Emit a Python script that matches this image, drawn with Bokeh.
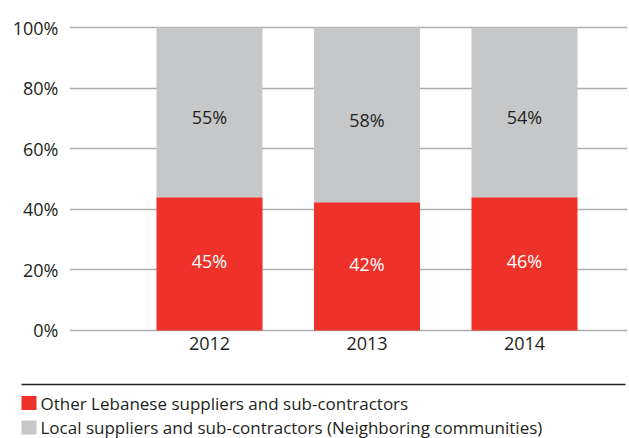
from bokeh.plotting import figure
from bokeh.models import Range1d, FixedTicker, ColumnDataSource
from bokeh.layouts import column
from bokeh.embed import file_html
from bokeh.resources import INLINE
from bokeh.core.properties import value

# ---- data ----
years = ["2012", "2013", "2014"]
other_lebanese = [44.0, 42.3, 44.0]          # bar heights as drawn (%)
local_suppliers = [56.0, 57.7, 56.0]         # remaining share (%)
other_labels = ["45%", "42%", "46%"]
local_labels = ["55%", "58%", "54%"]
series_names = ["Other Lebanese suppliers and sub-contractors",
                "Local suppliers and sub-contractors (Neighboring communities)"]
y_ticks = [0, 20, 40, 60, 80, 100]

RED = "#EE3129"
GRAY = "#C6C7C9"
TEXT = "#231F20"
FONT = "Open Sans"
series_colors = [RED, GRAY]

xs = list(range(len(years)))
src = ColumnDataSource(dict(
    x=xs,
    red_top=other_lebanese,
    gray_bottom=other_lebanese,
    gray_top=[a + b for a, b in zip(other_lebanese, local_suppliers)],
    red_mid=[a * 0.52 for a in other_lebanese],
    gray_mid=[a + b * 0.47 for a, b in zip(other_lebanese, local_suppliers)],
    red_lab=other_labels,
    gray_lab=local_labels,
))

W = 629
TOP_H = 360
p = figure(width=W, height=TOP_H, output_backend="svg", toolbar_location=None,
           x_range=Range1d(-0.889, 2.654), y_range=Range1d(-1, 101),
           min_border_left=69, min_border_right=2, min_border_top=24,
           min_border_bottom=27)
p.frame_align = False
p.outline_line_color = None
p.background_fill_color = "white"
p.border_fill_color = "white"

p.vbar(x="x", bottom=0, top="red_top", width=0.673, source=src,
       fill_color=RED, line_color=None)
p.vbar(x="x", bottom="gray_bottom", top="gray_top", width=0.673, source=src,
       fill_color=GRAY, line_color=None)

p.text(x="x", y="red_mid", text="red_lab", source=src, text_color="white",
       text_align="center", text_baseline="middle",
       text_font=value(FONT), text_font_size="18px")
p.text(x="x", y="gray_mid", text="gray_lab", source=src, text_color=TEXT,
       text_align="center", text_baseline="middle",
       text_font=value(FONT), text_font_size="18px")

# axes
p.yaxis.ticker = FixedTicker(ticks=y_ticks)
p.yaxis.major_label_overrides = {t: f"{t}%" for t in y_ticks}
p.yaxis.axis_line_color = None
p.yaxis.major_tick_line_color = None
p.yaxis.minor_tick_line_color = None
p.yaxis.major_tick_out = 0
p.yaxis.major_tick_in = 0
p.yaxis.major_label_standoff = 11
p.yaxis.major_label_text_font = FONT
p.yaxis.major_label_text_font_size = "18px"
p.yaxis.major_label_text_color = TEXT

p.xaxis.ticker = FixedTicker(ticks=xs)
p.xaxis.major_label_overrides = {i: y for i, y in zip(xs, years)}
p.xaxis.axis_line_color = None
p.xaxis.major_tick_line_color = None
p.xaxis.minor_tick_line_color = None
p.xaxis.major_tick_out = 0
p.xaxis.major_tick_in = 0
p.xaxis.major_label_standoff = 3
p.xaxis.major_label_text_font = FONT
p.xaxis.major_label_text_font_size = "18px"
p.xaxis.major_label_text_color = TEXT

p.xgrid.grid_line_color = None
p.ygrid.ticker = FixedTicker(ticks=y_ticks)
p.ygrid.grid_line_color = "#AEAEAE"
p.ygrid.grid_line_width = 1.5
p.ygrid.level = "underlay"

# ---- legend panel (pixel-like coordinates, y measured from top) ----
LEG_H = 438 - TOP_H
L = figure(width=W, height=LEG_H, output_backend="svg", toolbar_location=None,
           x_range=Range1d(0, W), y_range=Range1d(LEG_H, 0),
           min_border=0)
L.frame_align = False
L.outline_line_color = None
L.xaxis.visible = False
L.yaxis.visible = False
L.grid.visible = False
L.segment(x0=[21], y0=[24], x1=[625], y1=[24], line_color="#231F20",
          line_width=1.5)

row_y = [42.5 + 24.5 * i for i in range(len(series_names))]
leg_src = ColumnDataSource(dict(
    sx=[28.5] * len(series_names),
    tx=[40] * len(series_names),
    y=row_y,
    color=series_colors,
    name=series_names,
))
L.rect(x="sx", y="y", width=15, height=14, fill_color="color",
       line_color=None, source=leg_src)
L.text(x="tx", y="y", text="name", source=leg_src, text_color=TEXT,
       text_align="left", text_baseline="middle",
       text_font=value(FONT), text_font_size="17px")

layout = column(p, L, spacing=0)
open("out.html", "w").write(file_html(layout, INLINE))
